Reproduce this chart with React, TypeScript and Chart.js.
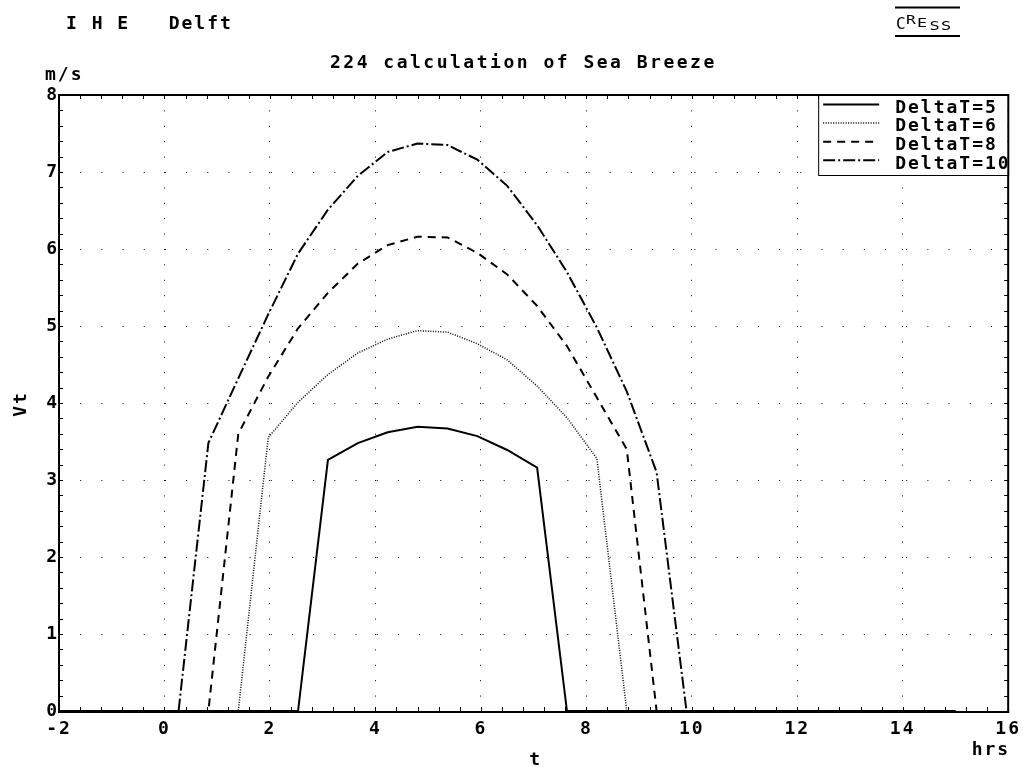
import React, { useEffect, useRef } from 'react';
import { Chart, registerables } from 'chart.js';

Chart.register(...registerables);

// ---- data ----
const hours = [-2, -1.433, -0.867, -0.3, 0.267, 0.833, 1.4, 1.967, 2.533, 3.1, 3.667, 4.233, 4.8, 5.367, 5.933, 6.5, 7.067, 7.633, 8.2, 8.767, 9.333, 9.9, 10.467, 11.033, 11.6, 12.167, 12.733, 13.3, 13.867, 14.433, 15];
const seriesLabels = ['DeltaT=5', 'DeltaT=6', 'DeltaT=8', 'DeltaT=10'];
const vtDeltaT5 = [0, 0, 0, 0, 0, 0, 0, 0, 0, 3.26, 3.48, 3.62, 3.69, 3.67, 3.57, 3.39, 3.16, 0, 0, 0, 0, 0, 0, 0, 0, 0, 0, 0, 0, 0, 0];
const vtDeltaT6 = [0, 0, 0, 0, 0, 0, 0, 3.55, 4.01, 4.37, 4.65, 4.83, 4.94, 4.92, 4.77, 4.56, 4.22, 3.81, 3.28, 0, 0, 0, 0, 0, 0, 0, 0, 0, 0, 0, 0];
const vtDeltaT8 = [0, 0, 0, 0, 0, 0, 3.6, 4.34, 4.97, 5.43, 5.81, 6.05, 6.16, 6.15, 5.95, 5.67, 5.26, 4.74, 4.07, 3.4, 0, 0, 0, 0, 0, 0, 0, 0, 0, 0, 0];
const vtDeltaT10 = [0, 0, 0, 0, 0, 3.48, 4.32, 5.15, 5.94, 6.51, 6.95, 7.26, 7.37, 7.35, 7.16, 6.82, 6.31, 5.7, 4.98, 4.15, 3.1, 0, 0, 0, 0, 0, 0, 0, 0, 0, 0];
const xTickLabels = [-2, 0, 2, 4, 6, 8, 10, 12, 14, 16];
const yTickLabels = [0, 1, 2, 3, 4, 5, 6, 7, 8];
const headerLeft = 'I H E   Delft';
const chartTitle = '224 calculation of Sea Breeze';
const yUnit = 'm/s';
const yTitle = 'Vt';
const xTitle = 't';
const xUnit = 'hrs';
const logoLetters = ['C', 'R', 'E', 'S', 'S'];

const FAMILY = '"DejaVu Sans Mono", monospace';
const BOLD18 = `bold 18px ${FAMILY}`;

const isIn = (v: number, arr: number[]) => arr.some((a) => Math.abs(a - v) < 1e-6);
const setLS = (ctx: any, v: string) => {
  try { ctx.letterSpacing = v; } catch (e) { /* ignore */ }
};

const decorPlugin = {
  id: 'decor',
  beforeUpdate(chart: any) { setLS(chart.ctx, '2px'); },
  beforeDraw(chart: any) { setLS(chart.ctx, '2px'); },
  afterDraw(chart: any) {
    const ctx = chart.ctx;
    const a = chart.chartArea;
    const xs = chart.scales.x;
    const ys = chart.scales.y;
    ctx.save();
    ctx.setLineDash([]);
    ctx.strokeStyle = '#000';
    ctx.fillStyle = '#000';

    // inward minor tick marks on all four sides
    ctx.lineWidth = 1;
    ctx.beginPath();
    xs.ticks.forEach((t: any) => {
      const px = Math.round(xs.getPixelForValue(t.value)) + 0.5;
      ctx.moveTo(px, a.bottom); ctx.lineTo(px, a.bottom - 4);
      ctx.moveTo(px, a.top); ctx.lineTo(px, a.top + 4);
    });
    ys.ticks.forEach((t: any) => {
      const py = Math.round(ys.getPixelForValue(t.value)) + 0.5;
      ctx.moveTo(a.left, py); ctx.lineTo(a.left + 4, py);
      ctx.moveTo(a.right, py); ctx.lineTo(a.right - 4, py);
    });
    ctx.stroke();

    // frame
    ctx.fillRect(a.left - 1, a.top - 1, a.right - a.left + 2, 2);
    ctx.fillRect(a.left - 1, a.bottom, a.right - a.left + 2, 2);
    ctx.fillRect(a.left - 1, a.top - 1, 2, a.bottom - a.top + 3);
    ctx.fillRect(a.right - 1, a.top - 1, 2, a.bottom - a.top + 3);

    // legend
    const bw = 190, bh = 80;
    const bx = a.right - bw, by = a.top;
    ctx.fillStyle = '#fff';
    ctx.fillRect(bx + 1, by + 1, bw - 2, bh - 1);
    ctx.lineWidth = 1;
    ctx.strokeStyle = '#000';
    ctx.strokeRect(bx + 0.5, by + 0.5, bw, bh);
    ctx.fillStyle = '#000';
    ctx.font = BOLD18;
    setLS(ctx, '2px');
    ctx.textAlign = 'left';
    ctx.textBaseline = 'alphabetic';
    chart.data.datasets.forEach((ds: any, i: number) => {
      const ly = by + 9.5 + i * 18.6;
      ctx.save();
      ctx.lineWidth = ds.borderWidth;
      ctx.setLineDash(ds.borderDash || []);
      ctx.beginPath();
      ctx.moveTo(bx + 5, ly);
      ctx.lineTo(bx + 61, ly);
      ctx.stroke();
      ctx.restore();
      ctx.fillText(ds.label, bx + 77, by + 17.7 + i * 18.6);
    });

    // header texts
    ctx.font = BOLD18;
    setLS(ctx, '2px');
    ctx.fillText(headerLeft, 66, 29);
    setLS(ctx, '2.5px');
    ctx.fillText(chartTitle, 330, 68);
    setLS(ctx, '2px');
    ctx.fillText(yUnit, 45, 80);
    ctx.textAlign = 'right';
    ctx.fillText(xUnit, a.right + 2, 755);
    ctx.textAlign = 'center';
    ctx.fillText(xTitle, (a.left + a.right) / 2 + 2, 765);
    ctx.save();
    ctx.translate(26, (a.top + a.bottom) / 2 + 1);
    ctx.rotate(-Math.PI / 2);
    ctx.textAlign = 'center';
    ctx.fillText(yTitle, 0, 0);
    ctx.restore();

    // CRESS logo
    setLS(ctx, '0px');
    ctx.textAlign = 'left';
    const logo = [
      { s: 16, x: 896, y: 28.5, k: 1.0 },
      { s: 12, x: 906, y: 23.5, k: 1.35 },
      { s: 12, x: 917, y: 26.7, k: 1.4 },
      { s: 13, x: 929.5, y: 30, k: 1.3 },
      { s: 13, x: 941, y: 30, k: 1.3 },
    ];
    logo.forEach((l, i) => {
      ctx.save();
      ctx.translate(l.x, l.y);
      ctx.scale(l.k, 1);
      ctx.font = `${l.s}px ${FAMILY}`;
      ctx.fillText(logoLetters[i], 0, 0);
      ctx.restore();
    });
    ctx.fillRect(895, 6.5, 65, 2);
    ctx.fillRect(895, 35, 65, 2);

    ctx.restore();
  },
};

export default function App() {
  const ref = useRef<HTMLCanvasElement>(null);
  useEffect(() => {
    const mk = (vals: number[]) => hours.map((h, i) => ({ x: h, y: vals[i] }));
    const chart = new Chart(ref.current as HTMLCanvasElement, {
      type: 'line',
      data: {
        datasets: [
          { label: seriesLabels[0], data: mk(vtDeltaT5), borderColor: '#000', borderWidth: 2, borderDash: [] },
          { label: seriesLabels[1], data: mk(vtDeltaT6), borderColor: '#000', borderWidth: 1.5, borderDash: [1, 1.5] },
          { label: seriesLabels[2], data: mk(vtDeltaT8), borderColor: '#000', borderWidth: 2, borderDash: [8, 6] },
          { label: seriesLabels[3], data: mk(vtDeltaT10), borderColor: '#000', borderWidth: 2, borderDash: [12, 3, 2, 3] },
        ],
      },
      options: {
        animation: false,
        responsive: true,
        maintainAspectRatio: false,
        layout: { padding: { top: 95, right: 17, left: 0, bottom: 0 } },
        elements: { point: { radius: 0 }, line: { tension: 0 } },
        plugins: { legend: { display: false }, title: { display: false }, tooltip: { enabled: false } },
        scales: {
          x: {
            type: 'linear',
            min: -2,
            max: 16,
            afterFit: (s: any) => { s.height = 56; },
            ticks: {
              stepSize: 0.4,
              autoSkip: false,
              maxRotation: 0,
              padding: 8,
              color: '#000',
              font: { family: FAMILY, size: 18, weight: 'bold' },
              callback: (v: any) => (isIn(Number(v), xTickLabels) ? String(Math.round(Number(v))) : ''),
            },
            grid: {
              drawTicks: false,
              lineWidth: 1,
              color: (c: any) => (c.tick && isIn(c.tick.value, xTickLabels) && c.tick.value > -2 && c.tick.value < 16 ? '#000' : 'rgba(0,0,0,0)'),
            },
            border: { display: false, dash: [1, 14.4] },
          },
          y: {
            type: 'linear',
            min: 0,
            max: 8,
            afterFit: (s: any) => { s.width = 59; },
            ticks: {
              stepSize: 0.2,
              autoSkip: false,
              padding: 0,
              color: '#000',
              font: { family: FAMILY, size: 18, weight: 'bold' },
              callback: (v: any) => (isIn(Number(v), yTickLabels) ? String(Math.round(Number(v))) : ''),
            },
            grid: {
              drawTicks: false,
              lineWidth: 1,
              color: (c: any) => (c.tick && isIn(c.tick.value, yTickLabels) && c.tick.value > 0 && c.tick.value < 8 ? '#000' : 'rgba(0,0,0,0)'),
            },
            border: { display: false, dash: [1, 20.18] },
          },
        },
      },
      plugins: [decorPlugin],
    } as any);
    return () => chart.destroy();
  }, []);
  return (
    <div style={{ position: 'absolute', left: 0, top: 0, width: 1029, height: 767, background: '#fff' }}>
      <canvas ref={ref} />
    </div>
  );
}
